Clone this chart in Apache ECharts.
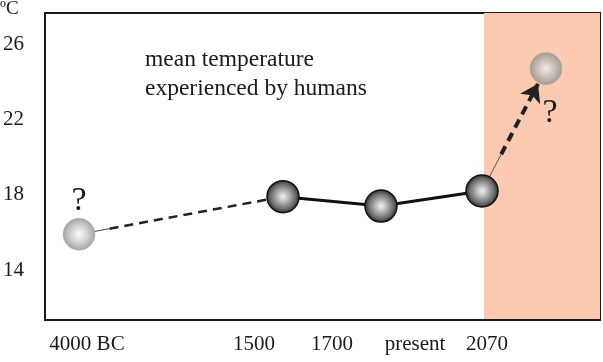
<!DOCTYPE html>
<html><head><meta charset="utf-8">
<script src="https://cdn.jsdelivr.net/npm/echarts@6/dist/echarts.min.js"></script>
<style>html,body{margin:0;padding:0;background:#fff}#c{width:603px;height:362px}</style>
</head><body><div id="c"></div>
<script>
// ---- data ----
const categories = ['4000 BC', '1500', '1700', 'present', '2070'];
const pointX = [34, 238, 336, 437, 501];          // position of each period along the axis
const temps = [15.9, 17.9, 17.4, 18.2, 24.7];      // mean temperature (ºC)
const labelX = [42, 209, 287, 370, 442];           // tick label positions
const yTicks = [14, 18, 22, 26];
const futureBandStart = 439;
const xMax = 555;
const uncertain = [true, false, false, false, true];

const serif = 'Liberation Serif';

function sphere(stops) {
  return { type: 'radial', x: 0.5, y: 0.5, r: 0.5,
    colorStops: stops.map(s => ({ offset: s[0], color: s[1] })) };
}
function lerp(i, j, t) {
  return [pointX[i] + (pointX[j] - pointX[i]) * t, temps[i] + (temps[j] - temps[i]) * t];
}

const darkBall = sphere([[0, '#f2f2f2'], [0.35, '#b4b4b4'], [0.75, '#6a6a6a'], [1, '#262626']]);
const styles = [
  { color: sphere([[0, '#fcfcfc'], [0.5, '#d4d4d4'], [1, '#a2a2a2']]), borderColor: '#b0b0b0', borderWidth: 0.5, size: 32 },
  { color: darkBall, borderColor: '#111', borderWidth: 1.5, size: 32 },
  { color: darkBall, borderColor: '#111', borderWidth: 1.5, size: 32 },
  { color: darkBall, borderColor: '#111', borderWidth: 1.5, size: 32 },
  { color: sphere([[0, '#f3ebe4'], [0.5, '#ccc2bb'], [1, '#a39a93']]), borderColor: '#b3a9a2', borderWidth: 0.5, size: 32 }
];

const points = categories.map((c, i) => {
  const item = {
    name: c, value: [pointX[i], temps[i]], symbolSize: styles[i].size,
    itemStyle: { color: styles[i].color, borderColor: styles[i].borderColor, borderWidth: styles[i].borderWidth, opacity: 1 }
  };
  if (uncertain[i]) {
    item.label = i === 0
      ? { show: true, formatter: '?', position: 'top', distance: 0, fontSize: 34, fontFamily: serif, color: '#1a1a1a' }
      : { show: true, formatter: '?', position: 'bottom', distance: 11, offset: [4, 0], fontSize: 34, fontFamily: serif, color: '#1a1a1a' };
  }
  return item;
});

const observed = [1, 2, 3].map(i => [pointX[i], temps[i]]);

const pastThin = lerp(0, 1, 0.15);
const futThin = lerp(3, 4, 0.3);
const futTip = lerp(3, 4, 0.875);

const option = {
  animation: false,
  grid: { left: 45, right: 3, top: 13, bottom: 42, show: true, borderColor: '#1a1a1a', borderWidth: 2, backgroundColor: 'transparent' },
  xAxis: {
    type: 'value', min: 0, max: xMax,
    axisLine: { show: true, lineStyle: { color: '#1a1a1a', width: 2 } },
    axisTick: { show: false },
    splitLine: { show: false },
    axisLabel: {
      customValues: labelX, margin: 14, fontSize: 21, fontFamily: serif, color: '#1a1a1a',
      formatter: v => { const k = labelX.indexOf(v); return k >= 0 ? categories[k] : ''; }
    }
  },
  yAxis: {
    type: 'value', min: 11.35, max: 27.65,
    axisLine: { show: true, lineStyle: { color: '#1a1a1a', width: 2 } },
    axisTick: { show: false },
    splitLine: { show: false },
    axisLabel: { customValues: yTicks, margin: 21, fontSize: 21, fontFamily: serif, color: '#1a1a1a' }
  },
  graphic: [
    { type: 'text', left: 0, top: 0, style: { text: 'ºC', fontSize: 19, fontFamily: serif, fill: '#1a1a1a' } },
    { type: 'text', left: 145, top: 45, style: { text: 'mean temperature\nexperienced by humans', fontSize: 23.5, lineHeight: 29, fontFamily: serif, fill: '#1a1a1a' } }
  ],
  series: [
    {
      type: 'line', data: [], z: 0, silent: true,
      markArea: { silent: true, z: 0, itemStyle: { color: '#fccab0' }, data: [[{ xAxis: futureBandStart }, { xAxis: xMax }]] }
    },
    {
      type: 'line', data: [], z: 1, silent: true,
      markLine: {
        silent: true, z: 1, symbol: 'none', label: { show: false },
        data: [
          [{ coord: [pointX[0], temps[0]], lineStyle: { color: '#444', width: 1, type: 'solid' } }, { coord: pastThin }],
          [{ coord: pastThin, lineStyle: { color: '#222', width: 2.5, type: [9, 6] } }, { coord: [pointX[1], temps[1]] }],
          [{ coord: [pointX[3], temps[3]], lineStyle: { color: '#555', width: 1, type: 'solid' } }, { coord: futThin }],
          [{ coord: futThin, lineStyle: { color: '#222', width: 4, type: [9, 6] } }, { coord: futTip, symbol: 'arrow', symbolSize: 17 }]
        ]
      }
    },
    {
      type: 'line', data: observed, z: 2, symbol: 'none', silent: true,
      lineStyle: { color: '#111', width: 3 }
    },
    {
      type: 'scatter', data: points, z: 3, silent: true, itemStyle: { opacity: 1 }
    }
  ]
};
echarts.init(document.getElementById('c')).setOption(option);
</script></body></html>
